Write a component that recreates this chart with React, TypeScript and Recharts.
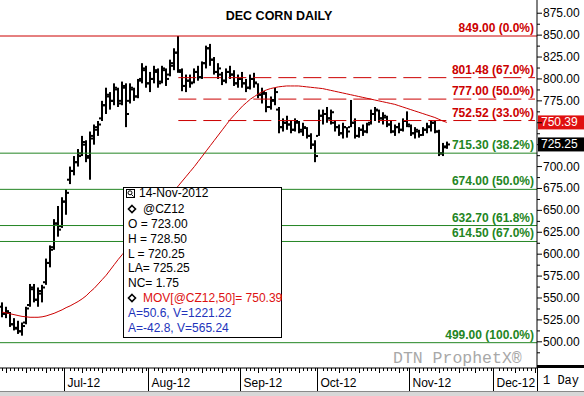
import React from 'react';
import { ComposedChart, Bar, Line, XAxis, YAxis, ReferenceLine } from 'recharts';

const FONT = '"Liberation Sans", Arial, sans-serif';
const MONO = '"Liberation Mono", "Courier New", monospace';

// trading calendar (categories)
const firstDay = '2012-06-08';
const lastDay = '2012-12-17';
const holidays = ['2012-07-04', '2012-09-03', '2012-11-22'];
const monthLabels = ['Jul-12', 'Aug-12', 'Sep-12', 'Oct-12', 'Nov-12', 'Dec-12'];

// daily OHLC, Jun 8 .. Nov 14 2012
const highs = [
  545, 540, 534, 527, 524, 522, 540, 566, 566, 562,
  565, 595, 610, 640, 655, 665, 674, 700, 712, 720,
  735, 730, 740, 748, 752, 775, 790, 785, 795, 790,
  797, 795, 795, 790, 800, 818, 815, 808, 815, 812,
  815, 812, 822, 835, 849, 812, 805, 805, 812, 815,
  820, 838, 840, 825, 818, 808, 812, 815, 810, 805,
  808, 800, 805, 807, 795, 790, 785, 780, 790, 768,
  755, 758, 752, 755, 752, 750, 745, 738, 730, 765,
  765, 768, 765, 752, 748, 750, 745, 776, 755, 745,
  748, 750, 765, 768, 765, 762, 758, 752, 748, 750,
  755, 763, 748, 745, 742, 745, 750, 753, 752, 742,
  727, 728.5,
];
const lows = [
  528, 527, 517, 513, 509, 507, 520, 540, 545, 540,
  545, 565, 585, 605, 620, 630, 645, 680, 690, 700,
  712, 705, 685, 725, 735, 752, 760, 765, 770, 768,
  770, 745, 772, 775, 778, 795, 790, 785, 795, 790,
  795, 792, 803, 810, 807, 786, 785, 790, 795, 798,
  800, 812, 815, 805, 800, 793, 795, 800, 792, 790,
  790, 785, 788, 790, 778, 772, 762, 765, 770, 738,
  740, 742, 738, 740, 738, 735, 732, 720, 705, 735,
  748, 750, 748, 740, 735, 732, 733, 745, 732, 733,
  735, 738, 748, 752, 750, 748, 745, 738, 735, 738,
  740, 745, 735, 732, 733, 735, 738, 740, 738, 712,
  712, 720.25,
];
const opens = [
  540, 532, 533, 520, 516, 512, 522, 542, 560, 548,
  555, 568, 590, 608, 635, 632, 660, 685, 695, 705,
  715, 725, 712, 732, 745, 755, 770, 780, 775, 788,
  775, 790, 775, 788, 780, 800, 810, 795, 800, 808,
  797, 810, 805, 815, 830, 808, 792, 798, 796, 808,
  802, 818, 835, 822, 808, 805, 798, 808, 805, 795,
  800, 795, 790, 800, 795, 782, 783, 768, 775, 765,
  745, 750, 748, 742, 750, 742, 744, 735, 725, 735,
  758, 760, 755, 750, 745, 738, 745, 745, 750, 735,
  742, 740, 750, 760, 764, 755, 756, 748, 740, 745,
  742, 752, 746, 738, 740, 736, 742, 745, 750, 740,
  715, 723,
];
const closes = [
  532, 535, 520, 515, 512, 518, 538, 562, 548, 558,
  562, 590, 605, 635, 628, 660, 670, 695, 705, 712,
  728, 710, 735, 742, 748, 770, 782, 775, 790, 772,
  792, 760, 790, 780, 798, 812, 795, 800, 810, 795,
  812, 800, 818, 830, 810, 792, 798, 795, 808, 802,
  818, 835, 822, 808, 812, 798, 808, 805, 795, 800,
  795, 790, 800, 796, 782, 785, 768, 776, 785, 745,
  750, 748, 742, 752, 740, 745, 735, 725, 712, 758,
  760, 755, 762, 745, 738, 745, 740, 750, 735, 742,
  740, 748, 760, 765, 755, 758, 748, 740, 745, 742,
  752, 748, 738, 742, 736, 742, 746, 750, 740, 715,
  722, 725.25,
];
// 50 day moving average as drawn
const movAvg = [
  534, 533, 532, 531, 530, 529, 528.5, 528, 528, 528,
  528.5, 529.5, 531, 532.5, 534.5, 536.5, 539, 541, 543.5, 546,
  549, 552.5, 557, 561, 566, 571, 576, 582, 588, 594,
  599.5, 605, 611, 617, 622.5, 628, 634, 639.5, 645, 650.5,
  656, 661.5, 667, 672.5, 678, 683.5, 689, 694.5, 700, 706,
  712, 718, 724, 730, 736, 742, 748, 754, 759, 764,
  769, 773, 777, 780, 783, 785.5, 787.5, 789, 790, 791,
  791.5, 792, 792, 792, 792, 791.5, 791, 790.5, 790, 789.5,
  789, 788, 787, 786, 785, 784, 783, 782, 781, 780,
  779, 778, 777, 776, 775, 774, 773, 772, 771, 769.5,
  768, 766.5, 765, 763.5, 762, 760.5, 759, 757.5, 756, 754,
  752, 750.39,
];

const yTicks = [500, 525, 550, 575, 600, 625, 650, 675, 700, 725, 750, 775, 800, 825, 850, 875];

// retracement levels
const redLevels = [849, 801.48, 777, 752.52];
const redLabels = ['849.00 (0.0%)', '801.48 (67.0%)', '777.00 (50.0%)', '752.52 (33.0%)'];
const greenLevels = [715.3, 674, 632.7, 614.5, 499];
const greenLabels = ['715.30 (38.2%)', '674.00 (50.0%)', '632.70 (61.8%)', '614.50 (67.0%)', '499.00 (100.0%)'];
const swingHighIndex = 44;

const netChange = 1.75;
const angleRows = ['A=50.6, V=1221.22', 'A=-42.8, V=565.24'];

const RED = '#cc0000';
const GREEN = '#238523';

function tradingDays(from: string, to: string): string[] {
  const out: string[] = [];
  const d = new Date(from + 'T12:00:00Z');
  const end = new Date(to + 'T12:00:00Z');
  while (d <= end) {
    const iso = d.toISOString().slice(0, 10);
    const wd = d.getUTCDay();
    if (wd !== 0 && wd !== 6 && !holidays.includes(iso)) out.push(iso);
    d.setUTCDate(d.getUTCDate() + 1);
  }
  return out;
}

const days = tradingDays(firstDay, lastDay);
const data = days.map((date, i) =>
  i < highs.length
    ? { date, range: [lows[i], highs[i]], open: opens[i], close: closes[i], ma: movAvg[i] }
    : { date }
);

const monthStart: Record<string, string> = {};
let m = 0;
days.forEach((d, i) => {
  if (i > 0 && d.slice(5, 7) !== days[i - 1].slice(5, 7)) monthStart[d] = monthLabels[m++];
});

const last = highs.length - 1;
const lastMov = movAvg[last];
const lastClose = closes[last];

// OHLC bar: vertical high-low, open tick left, close tick right
const OhlcShape = (props: any) => {
  const { x, y, width, height, payload } = props;
  if (!payload || payload.range == null) return null;
  const top = Math.min(y, y + height);
  const h = Math.abs(height);
  const [lo, hi] = payload.range;
  const cx = Math.round(x + width / 2);
  const yOf = (v: number) => top + ((hi - v) / (hi - lo || 1)) * h;
  return (
    <g fill="#000">
      <rect x={cx - 1} y={top} width={2} height={Math.max(h, 1)} />
      <rect x={cx - 3} y={yOf(payload.open) - 1} width={2} height={2} />
      <rect x={cx + 1} y={yOf(payload.close) - 1} width={2} height={2} />
    </g>
  );
};

const DateTick = (props: any) => {
  const { x, y, payload } = props;
  const date: string = payload.value;
  const label = monthStart[date];
  const wd = new Date(date + 'T12:00:00Z').getUTCDay();
  const cx = Math.round(x) + 0.5;
  if (label) {
    const sx = Math.round(x - 2) + 0.5;
    return (
      <g>
        <line x1={sx} x2={sx} y1={y} y2={y + 24} stroke="#000" />
        <text x={sx + 3} y={y + 15} dominantBaseline="central" fontSize={12} fontFamily={FONT} fill="#000">
          {label}
        </text>
      </g>
    );
  }
  return <line x1={cx} x2={cx} y1={y} y2={y + (wd === 1 ? 5 : 3)} stroke="#000" />;
};

// price labels under the value tags are hidden, as in the original
const PriceTick = (props: any) => {
  const { x, y, payload } = props;
  const v = Number(payload.value);
  const ax = x - 6;
  const covered = Math.abs(v - lastMov) < 9 || Math.abs(v - lastClose) < 9;
  return (
    <g>
      <line x1={ax} x2={ax + 3} y1={y + 11} y2={y + 11} stroke="#000" />
      {!covered && (
        <text x={x} y={y} dominantBaseline="central" fontSize={12} fontFamily={FONT} fill="#000">
          {v.toFixed(2)}
        </text>
      )}
    </g>
  );
};

const levelLabel = (text: string, color: string) => (p: any) => (
  <text
    x={534}
    y={p.viewBox.y - 4}
    textAnchor="end"
    fontSize={12}
    fontWeight="bold"
    fontFamily={FONT}
    fill={color}
  >
    {text}
  </text>
);

const tagLabel = (text: string, bg: string) => (p: any) => (
  <g>
    <rect x={538} y={p.viewBox.y - 7} width={46} height={14} fill={bg} />
    <text x={541} y={p.viewBox.y} dominantBaseline="central" fontSize={12} fontFamily={FONT} fill="#fff">
      {text}
    </text>
  </g>
);

const Diamond = ({ x, y }: { x: number; y: number }) => (
  <path d={`M${x} ${y - 3.5} L${x + 3.5} ${y} L${x} ${y + 3.5} L${x - 3.5} ${y} Z`} fill="none" stroke="#000" strokeWidth={1.6} />
);

export default function App() {
  const rows = [
    `O = ${opens[last].toFixed(2)}`,
    `H = ${highs[last].toFixed(2)}`,
    `L = ${lows[last].toFixed(2)}`,
    `LA= ${closes[last].toFixed(2)}`,
    `NC= ${netChange.toFixed(2)}`,
  ];
  return (
    <div style={{ position: 'absolute', left: 0, top: 0, width: 584, height: 396, background: '#fff', fontFamily: FONT }}>
      <ComposedChart
        width={584}
        height={396}
        data={data}
        margin={{ top: 0, right: 0, bottom: 0, left: 0 }}
        barCategoryGap={0}
      >
        <XAxis
          dataKey="date"
          height={28}
          interval={0}
          tickSize={0}
          tickMargin={0}
          tickLine={false}
          axisLine={{ stroke: '#000' }}
          tick={DateTick}
        />
        <YAxis
          orientation="right"
          width={47}
          domain={[470.1, 890.1]}
          allowDataOverflow
          ticks={yTicks}
          interval={0}
          tickSize={5}
          tickMargin={1}
          tickLine={{ stroke: '#000' }}
          axisLine={{ stroke: '#000' }}
          tick={PriceTick}
        />
        {greenLevels.map((v, i) => (
          <ReferenceLine key={'g' + v} y={v} stroke={GREEN} strokeWidth={1} label={levelLabel(greenLabels[i], GREEN)} />
        ))}
        {redLevels.map((v, i) =>
          i === 0 ? (
            <ReferenceLine key={'r' + v} y={v} stroke={RED} strokeWidth={1} label={levelLabel(redLabels[i], RED)} />
          ) : (
            <ReferenceLine
              key={'r' + v}
              segment={[
                { x: days[swingHighIndex], y: v },
                { x: days[days.length - 1], y: v },
              ]}
              stroke={RED}
              strokeWidth={1}
              strokeDasharray="18 7"
              label={levelLabel(redLabels[i], RED)}
            />
          )
        )}
        <Bar dataKey="range" shape={OhlcShape} isAnimationActive={false} />
        <Line
          dataKey="ma"
          type="linear"
          stroke={RED}
          strokeWidth={1}
          dot={false}
          activeDot={false}
          isAnimationActive={false}
        />
        <ReferenceLine y={lastMov} stroke="none" label={tagLabel(lastMov.toFixed(2), '#e01010')} />
        <ReferenceLine y={lastClose} stroke="none" label={tagLabel(lastClose.toFixed(2), '#000')} />
      </ComposedChart>

      <svg width={584} height={396} style={{ position: 'absolute', left: 0, top: 0, pointerEvents: 'none' }} fontFamily={FONT}>
        <text x={279} y={16} textAnchor="middle" dominantBaseline="central" fontSize={12.5} fontWeight="bold" fill="#000">
          DEC CORN DAILY
        </text>

        {/* quote box */}
        <rect x={123.5} y={187.5} width={158} height={150} fill="#fff" stroke="#000" />
        <rect x={126.5} y={189.5} width={8} height={8} fill="#fff" stroke="#000" />
        <circle cx={130} cy={192.8} r={2} fill="none" stroke="#000" />
        <line x1={131.5} y1={194.5} x2={133.5} y2={196.5} stroke="#000" />
        <text x={139} y={193} dominantBaseline="central" fontSize={12} fill="#000">14-Nov-2012</text>
        <Diamond x={132} y={209} />
        <text x={143} y={209} dominantBaseline="central" fontSize={12} fill="#000">@CZ12</text>
        {rows.map((r, i) => (
          <text key={r} x={128} y={224 + i * 14.8} dominantBaseline="central" fontSize={12} fill="#000">
            {r}
          </text>
        ))}
        <Diamond x={132} y={298} />
        <text x={143} y={298} dominantBaseline="central" fontSize={12} fill="#dd1111">
          {`MOV[@CZ12,50]= ${lastMov.toFixed(2)}`}
        </text>
        {angleRows.map((r, i) => (
          <text key={r} x={128} y={313 + i * 15} dominantBaseline="central" fontSize={12} fill="#2233bb">
            {r}
          </text>
        ))}

        {/* watermark and corner */}
        <text x={393} y={358} dominantBaseline="central" fontSize={16.5} fontFamily={MONO} fill="#a8a8a8">
          DTN ProphetX®
        </text>
        <rect x={537} y={365} width={47} height={3} fill="#000" />
        <line x1={537.5} x2={537.5} y1={366} y2={391} stroke="#000" />
        <text x={543} y={381} dominantBaseline="central" fontSize={12} fontFamily={MONO} fill="#000">
          1 Day
        </text>
        <line x1={0} x2={584} y1={391.5} y2={391.5} stroke="#8a8a8a" />
        <rect x={0} y={392} width={584} height={4} fill="#d8d8d8" />
      </svg>
    </div>
  );
}
